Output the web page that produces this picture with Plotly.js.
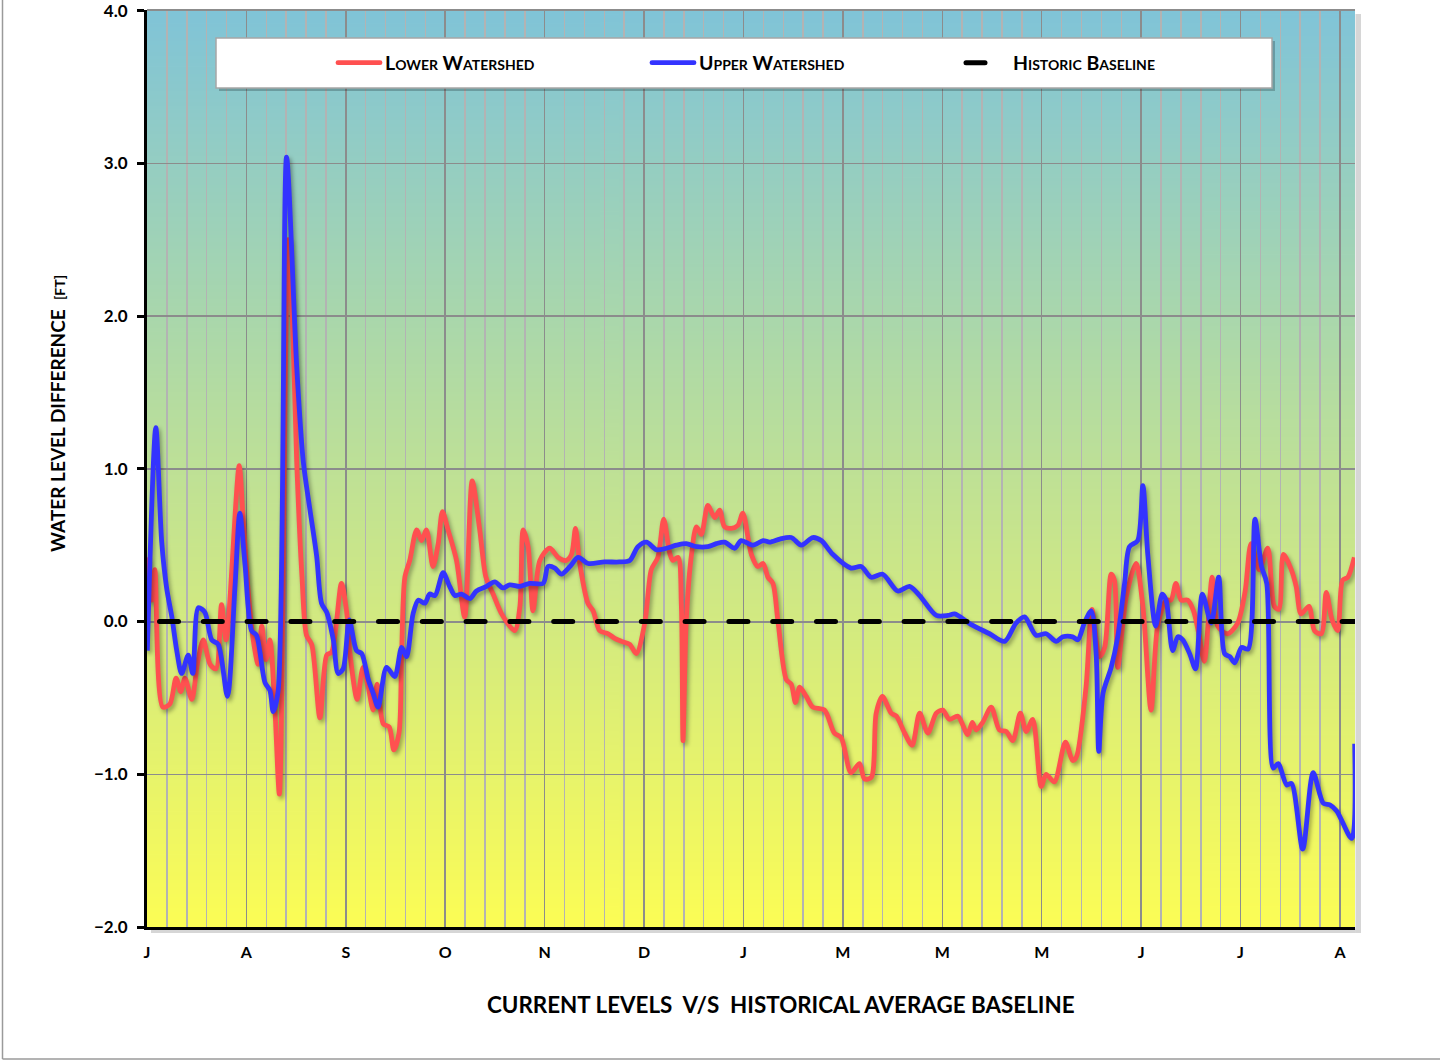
<!DOCTYPE html>
<html><head><meta charset="utf-8">
<script src="https://cdn.plot.ly/plotly-3.0.1.min.js"></script>
<style>
html,body{margin:0;padding:0;background:#fff;}
#chart{width:1442px;height:1061px;}
.scatterlayer .trace .js-line{filter:drop-shadow(2px 3px 2px rgba(0,0,0,0.35));}
.scatterlayer .trace:nth-of-type(3) .js-line{stroke-linecap:round;stroke-dashoffset:31.3px;filter:none;}
.legend .traces .js-line{stroke-linecap:round;}
</style></head><body><div id="chart"></div>
<script>
// ---- data (x = days from start of the period, y = feet) ----
const monthLabels = ['J','A','S','O','N','D','J','M','M','M','J','J','A'];
const levelTicks = [-2, -1, 0, 1, 2, 3, 4];

const lowerDays = [0.1,0.6,1.4,2.4,4.8,7.0,8.9,10.3,11.6,13.7,
15.4,17.2,19.3,21.1,22.8,24.2,28.2,29.4,31.0,32.5,
34.0,35.1,36.4,37.6,39.1,40.5,43.2,44.6,45.8,47.4,
48.8,50.4,52.9,55.0,56.5,59.5,61.1,62.1,64.3,66.1,
67.7,69.2,70.4,72.3,74.1,75.5,77.1,77.9,78.9,80.4,
82.5,84.0,85.5,87.5,89.1,90.4,92.1,94.7,97.2,99.5,
101.8,103.7,105.9,108.5,112.5,114.1,115.1,116.6,118.1,120.2,
123.2,125.8,128.3,129.9,131.1,132.4,134.9,136.5,138.5,141.1,
143.1,145.2,147.7,149.7,152.3,154.3,156.3,158.1,159.9,160.9,
162.5,163.5,164.0,165.0,166.6,168.1,169.6,171.6,173.7,175.2,
176.7,178.8,180.8,182.3,184.9,186.9,188.5,190.0,191.5,193.0,
195.6,197.1,198.4,199.7,201.7,203.7,207.3,210.3,212.4,215.4,
218.0,219.5,221.6,223.1,225.0,227.7,229.3,231.8,234.1,236.4,
238.9,241.5,243.5,245.5,248.1,251.1,252.5,253.7,255.7,258.3,
260.8,262.9,264.9,267.2,269.0,271.0,273.6,275.1,277.6,281.0,
283.2,284.3,287.3,289.1,291.4,293.0,295.0,296.0,297.0,299.6,
302.6,304.7,307.2,309.2,311.8,313.3,314.8,316.4,318.4,320.2,
321.8,323.5,325.9,327.6,330.6,333.7,336.0,337.8,340.3,342.9,
344.9,346.3,347.7,350.1,351.6,353.1,355.5,357.2,359.3,360.8,
362.6,364.3,365.8,367.4,369.4];
const lowerLevels = [0.42,0.25,0.14,0.34,-0.56,-0.54,-0.37,-0.46,-0.37,-0.51,
-0.28,-0.12,-0.28,-0.31,0.11,-0.12,1.02,0.68,0.19,-0.12,
-0.28,-0.03,-0.25,-0.12,-0.56,-1.13,2.5,1.9,1.05,0.3,
-0.09,-0.15,-0.63,-0.22,-0.20,0.25,0.06,-0.21,-0.51,-0.30,
-0.43,-0.58,-0.41,-0.67,-0.69,-0.84,-0.73,-0.21,0.29,0.40,
0.60,0.53,0.60,0.36,0.51,0.72,0.60,0.40,0.03,0.92,
0.60,0.29,0.18,0.05,-0.06,0.10,0.60,0.49,0.07,0.40,
0.48,0.42,0.40,0.44,0.61,0.38,0.12,0.07,-0.06,-0.08,
-0.11,-0.13,-0.15,-0.21,-0.01,0.34,0.42,0.67,0.45,0.40,
0.42,0.10,-0.78,0.01,0.44,0.62,0.57,0.76,0.68,0.73,
0.62,0.61,0.63,0.71,0.44,0.36,0.38,0.29,0.25,0.01,
-0.38,-0.41,-0.53,-0.43,-0.49,-0.56,-0.58,-0.73,-0.76,-0.99,
-0.93,-1.03,-1.02,-0.60,-0.49,-0.60,-0.62,-0.73,-0.81,-0.60,
-0.73,-0.60,-0.58,-0.64,-0.62,-0.74,-0.66,-0.71,-0.66,-0.56,
-0.71,-0.72,-0.78,-0.60,-0.72,-0.64,-1.08,-1.00,-1.05,-0.79,
-0.91,-0.89,-0.43,0.08,-0.23,-0.17,0.31,0.27,-0.30,0.16,
0.38,0.10,-0.58,-0.03,0.14,0.14,0.25,0.14,0.14,0.07,
-0.08,-0.26,0.29,-0.03,-0.08,-0.01,0.20,0.51,0.34,0.48,
0.10,0.08,0.44,0.34,0.23,0.05,0.10,-0.06,-0.08,0.19,
0.01,-0.06,0.27,0.29,0.42];

const upperDays = [0.1,2.7,4.5,6.0,7.6,9.1,10.6,12.6,14.0,15.7,
17.7,19.8,21.8,24.6,26.9,28.4,30.0,32.0,33.5,36.1,
37.6,38.6,40.1,42.7,45.8,47.8,49.8,51.9,53.4,55.0,
57.0,58.5,60.0,61.9,64.1,65.7,67.7,69.2,70.7,73.3,
75.8,77.9,79.4,81.4,83.0,85.0,86.5,88.1,90.6,92.6,
94.2,96.2,98.8,100.8,103.9,106.4,108.9,111.0,114.1,117.1,
121.2,122.7,124.8,126.8,129.4,131.9,135.0,140.0,144.6,147.7,
150.2,152.8,155.9,158.9,162.0,165.0,168.1,171.6,174.2,176.7,
179.8,181.8,185.4,188.5,190.5,193.6,197.1,200.2,203.7,206.3,
209.8,215.4,218.5,221.6,225.1,229.7,233.3,236.4,241.5,245.1,
247.1,252.2,257.8,262.4,265.9,268.5,272.0,275.1,278.2,280.2,
283.2,284.8,286.8,288.9,290.4,291.2,292.5,295.0,297.0,299.1,
300.6,303.1,304.7,306.2,308.6,310.6,311.8,313.8,315.4,316.9,
319.0,320.8,322.9,325.6,327.9,329.7,331.3,332.8,334.9,336.9,
339.0,341.0,342.6,344.6,346.1,348.7,350.2,353.6,356.8,359.9,
361.9,364.0,368.6,369.5];
const upperLevels = [-0.19,1.27,0.52,0.22,0.03,-0.19,-0.34,-0.22,-0.34,0.09,
0.06,-0.12,-0.15,-0.49,0.22,0.71,0.37,-0.06,-0.09,-0.40,
-0.45,-0.59,-0.46,3.04,1.67,1.05,0.74,0.43,0.12,0.06,
-0.12,-0.34,-0.31,0.01,-0.19,-0.21,-0.38,-0.47,-0.56,-0.30,
-0.36,-0.17,-0.23,0.05,0.14,0.12,0.18,0.17,0.32,0.23,
0.17,0.18,0.15,0.20,0.23,0.26,0.22,0.24,0.23,0.25,
0.25,0.36,0.35,0.31,0.36,0.42,0.38,0.39,0.39,0.40,
0.49,0.52,0.47,0.48,0.50,0.51,0.49,0.49,0.51,0.52,
0.48,0.53,0.50,0.53,0.52,0.54,0.55,0.50,0.55,0.53,
0.44,0.35,0.36,0.29,0.31,0.20,0.23,0.17,0.04,0.04,
0.05,-0.02,-0.08,-0.13,-0.01,0.03,-0.09,-0.08,-0.13,-0.10,
-0.10,-0.12,-0.01,0.07,-0.21,-0.85,-0.47,-0.30,-0.10,0.25,
0.49,0.53,0.89,0.44,-0.03,0.18,0.14,-0.19,-0.10,-0.12,
-0.21,-0.31,0.18,-0.01,0.29,-0.21,-0.23,-0.27,-0.17,-0.18,
0.67,0.36,0.25,-0.96,-0.93,-1.07,-1.06,-1.49,-0.99,-1.19,
-1.20,-1.24,-1.42,-0.80];

const baselineDays = [0, 369.6];
const baselineLevels = [0, 0];

// ---- styling ----
const FONT = "Lato, 'Open Sans', sans-serif";
const DAYS_PER_MONTH = 365/12;
const tickvals = monthLabels.map((_, i) => i * DAYS_PER_MONTH);

function gradientURL(){
  const c = document.createElement('canvas'); c.width = 4; c.height = 512;
  const g = c.getContext('2d');
  const gr = g.createLinearGradient(0,0,0,512);
  gr.addColorStop(0,'#80c4d8'); gr.addColorStop(1,'#fcfd55');
  g.fillStyle = gr; g.fillRect(0,0,4,512);
  return c.toDataURL();
}

// pixel helpers for decorative shapes (plot area 147..1355 x 10..927)
const px = v => (v - 147) / 1208;
const py = v => (927 - v) / 917;

const traces = [
  {x: lowerDays, y: lowerLevels, name: 'Lower Watershed', type: 'scatter', mode: 'lines',
   line: {color: '#ff5050', width: 4.8, shape: 'spline', smoothing: 0.8}, hoverinfo: 'skip'},
  {x: upperDays, y: upperLevels, name: 'Upper Watershed', type: 'scatter', mode: 'lines',
   line: {color: '#3333ff', width: 4.8, shape: 'spline', smoothing: 0.8}, hoverinfo: 'skip'},
  {x: baselineDays, y: baselineLevels, name: 'Historic Baseline', type: 'scatter', mode: 'lines',
   line: {color: '#000000', width: 5, dash: '19px,24.8px'}, hoverinfo: 'skip'}
];

const layout = {
  width: 1442, height: 1061,
  margin: {l: 147, r: 87, t: 10, b: 134, pad: 0},
  paper_bgcolor: '#ffffff', plot_bgcolor: 'rgba(0,0,0,0)',
  font: {family: FONT, color: '#000'},
  showlegend: true,
  legend: {orientation: 'h', x: px(333), xanchor: 'left', y: py(63), yanchor: 'middle',
    bgcolor: 'rgba(0,0,0,0)', borderwidth: 0, entrywidth: 257, entrywidthmode: 'pixels',
    itemwidth: 42, traceorder: 'normal',
    font: {family: FONT, size: 19.5, weight: 'bold', variant: 'small-caps', color: '#000'}},
  xaxis: {range: [0, 369.6], tickmode: 'array', tickvals: tickvals, ticktext: monthLabels,
    showgrid: true, gridcolor: '#8c8c8c', gridwidth: 1.5,
    minor: {tickmode: 'linear', tick0: 0, dtick: DAYS_PER_MONTH/5, showgrid: true, gridcolor: '#b3b3b3', gridwidth: 1.5},
    showline: true, linecolor: '#000', linewidth: 3, ticks: '', zeroline: false,
    tickfont: {family: FONT, size: 16, weight: 'bold', color: '#000'}, ticklabelstandoff: 9},
  yaxis: {range: [-2, 4.004], tickmode: 'array', tickvals: levelTicks, tickformat: '.1f',
    showgrid: true, gridcolor: '#8c8c8c', gridwidth: 1.5,
    zeroline: true, zerolinecolor: '#8c8c8c', zerolinewidth: 2,
    showline: true, linecolor: '#000', linewidth: 3,
    ticks: 'outside', ticklen: 7, tickwidth: 3, tickcolor: '#000', ticklabeloverflow: 'allow',
    tickfont: {family: FONT, size: 17, weight: 'bold', color: '#000'}, ticklabelstandoff: 6},
  images: [{source: gradientURL(), xref: 'paper', yref: 'paper', x: 0, y: 1, sizex: 1, sizey: 1,
    xanchor: 'left', yanchor: 'top', sizing: 'stretch', layer: 'below'}],
  shapes: [
    // plot area top border and drop shadow
    {type: 'line', xref: 'paper', yref: 'paper', x0: 0, x1: 1, y0: 1, y1: 1, line: {color: '#8c8c8c', width: 2}},
    {type: 'rect', xref: 'paper', yref: 'paper', x0: px(1355.5), x1: px(1361), y0: py(933), y1: py(14),
     fillcolor: 'rgba(0,0,0,0.16)', line: {width: 0}, layer: 'below'},
    {type: 'rect', xref: 'paper', yref: 'paper', x0: px(151), x1: px(1355.5), y0: py(933), y1: py(928.5),
     fillcolor: 'rgba(0,0,0,0.16)', line: {width: 0}, layer: 'below'},
    // outer frame
    {type: 'line', xref: 'paper', yref: 'paper', x0: px(2.5), x1: px(2.5), y0: py(0), y1: py(1059), line: {color: '#9a9a9a', width: 1.5}},
    {type: 'line', xref: 'paper', yref: 'paper', x0: px(2.5), x1: px(1440), y0: py(1059), y1: py(1059), line: {color: '#9a9a9a', width: 1.5}},
    // legend box with shadow
    {type: 'rect', xref: 'paper', yref: 'paper', x0: px(219), x1: px(1275), y0: py(91), y1: py(41),
     fillcolor: 'rgba(0,0,0,0.22)', line: {width: 0}, layer: 'above'},
    {type: 'rect', xref: 'paper', yref: 'paper', x0: px(216), x1: px(1272), y0: py(88), y1: py(38),
     fillcolor: '#ffffff', line: {color: '#a6a6a6', width: 1.5}, layer: 'above'}
  ],
  annotations: [
    {text: 'WATER LEVEL DIFFERENCE\u00a0\u00a0<span style="font-size:14px">[FT]</span>',
     xref: 'paper', yref: 'paper', x: px(57), y: py(414), xanchor: 'center', yanchor: 'middle',
     textangle: -90, showarrow: false, font: {family: FONT, size: 19, weight: 'bold', color: '#000'}},
    {text: 'CURRENT LEVELS\u00a0\u00a0V/S\u00a0\u00a0HISTORICAL AVERAGE BASELINE',
     xref: 'paper', yref: 'paper', x: px(781), y: py(1004), xanchor: 'center', yanchor: 'middle',
     showarrow: false, font: {family: FONT, size: 22.4, weight: 'bold', color: '#000'}}
  ]
};

Plotly.newPlot('chart', traces, layout, {staticPlot: true, displayModeBar: false});
</script></body></html>
